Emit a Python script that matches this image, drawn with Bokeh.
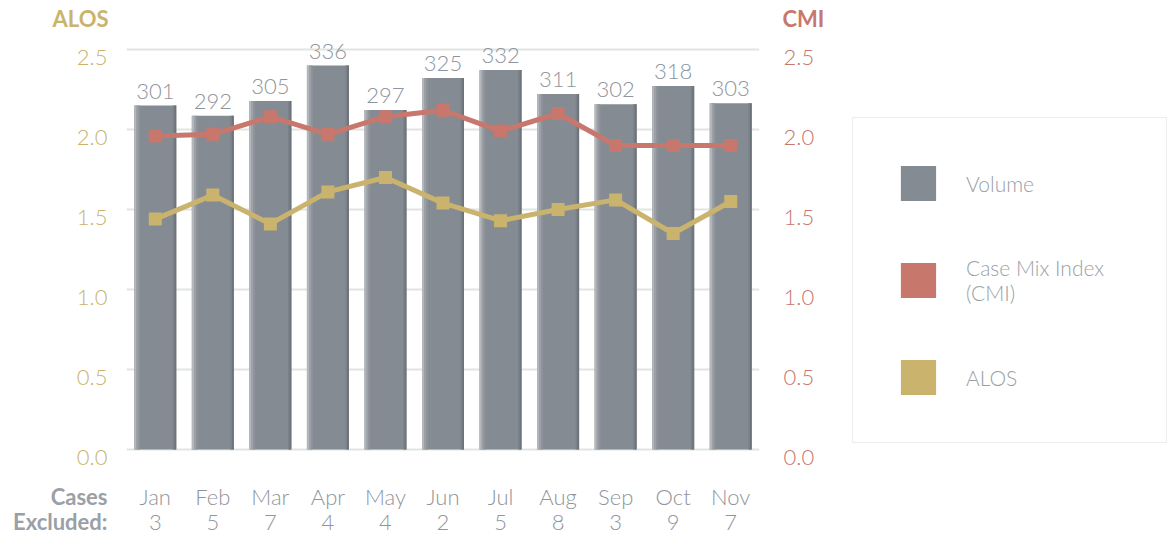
from bokeh.plotting import figure
from bokeh.models import (Range1d, FactorRange, LinearAxis, FixedTicker,
                          Grid, Legend, LegendItem, ColumnDataSource)
from bokeh.layouts import row
from bokeh.transform import dodge
from bokeh.core.properties import value
from bokeh.embed import file_html
from bokeh.resources import INLINE

# ---------------- data ----------------
months = ["Jan", "Feb", "Mar", "Apr", "May", "Jun", "Jul", "Aug", "Sep", "Oct", "Nov"]
cases_excluded = [3, 5, 7, 4, 4, 2, 5, 8, 3, 9, 7]
volume = [301, 292, 305, 336, 297, 325, 332, 311, 302, 318, 303]
cmi = [1.96, 1.97, 2.08, 1.97, 2.08, 2.12, 1.99, 2.10, 1.90, 1.90, 1.90]
alos = [1.44, 1.59, 1.41, 1.61, 1.70, 1.54, 1.43, 1.50, 1.56, 1.35, 1.55]
axis_ticks = [0.0, 0.5, 1.0, 1.5, 2.0, 2.5]
legend_labels = ["Volume", "Case Mix Index\n(CMI)", "ALOS"]
caption_lines = ["Cases", "Excluded:"]

# ---------------- style / layout ----------------
FONT = "Lato Light"
BOLD = "Lato"
GOLD = "#cab36c"
RED = "#c8776d"
BAR = "#858b92"
TXT = "#8f959c"
CAP = "#9aa0a6"
GRID = "#e2e3e4"
VOL_SCALE = 140.0
Y0, Y1 = -0.53125, 2.76875       # frame spans the full height (160 px per unit)
LABEL_SHIFT = 0.05               # tick labels sit slightly below their grid lines
TITLE_Y = 2.694                  # level of the "ALOS" / "CMI" titles
MONTH_Y, COUNT_Y = -0.29375, -0.45625
H = 534
BT, BB = 6, 0

src = ColumnDataSource(dict(month=months, volume=volume,
                            vol_label=[str(v) for v in volume],
                            count_label=[str(c) for c in cases_excluded],
                            cmi=cmi, alos=alos))

p = figure(width=840, height=H, output_backend="svg", toolbar_location=None,
           x_range=FactorRange(*months, range_padding=0), y_range=Range1d(Y0, Y1),
           x_axis_location=None, y_axis_location=None,
           min_border_left=126, min_border_right=81, min_border_top=BT, min_border_bottom=BB)
p.grid.grid_line_color = None
p.outline_line_color = None
p.background_fill_color = "white"
p.extra_y_ranges = {"cmi": Range1d(Y0, Y1), "vol": Range1d(Y0 * VOL_SCALE, Y1 * VOL_SCALE)}

p.add_layout(Grid(dimension=1, ticker=FixedTicker(ticks=axis_ticks),
                  grid_line_color=GRID, grid_line_width=2))

label_ticks = [t - LABEL_SHIFT for t in axis_ticks]


def make_axis(ticks, labels, color, standoff, font, size, bold=False, range_name="default"):
    ax = LinearAxis(y_range_name=range_name, ticker=FixedTicker(ticks=ticks),
                    major_label_overrides=dict(zip(ticks, labels)))
    ax.axis_line_color = None
    ax.major_tick_line_color = None
    ax.minor_tick_line_color = None
    ax.major_tick_out = 0
    ax.major_tick_in = 0
    ax.major_label_text_font = font
    ax.major_label_text_font_size = size
    ax.major_label_text_color = color
    ax.major_label_standoff = standoff
    if bold:
        ax.major_label_text_font_style = "bold"
    return ax


tick_texts = [f"{t:.1f}" for t in axis_ticks]
# left side: value axis, then (overlapping) title and row caption
p.add_layout(make_axis(label_ticks, tick_texts, GOLD, 19, FONT, "22px"), "left")
p.add_layout(make_axis([TITLE_Y], ["ALOS"], GOLD, -35, BOLD, "22px", bold=True), "left")
p.add_layout(make_axis([MONTH_Y, COUNT_Y], caption_lines, CAP, -58, BOLD, "22px", bold=True), "left")
# right side: CMI value axis and its title
p.add_layout(make_axis(label_ticks, tick_texts, RED, 24, FONT, "22px", range_name="cmi"), "right")
p.add_layout(make_axis([TITLE_Y], ["CMI"], RED, -35, BOLD, "22px", bold=True, range_name="cmi"), "right")

# bars with shaded edges
BW = 0.73
p.vbar(x="month", top="volume", width=BW, source=src, y_range_name="vol",
       fill_color=BAR, line_color=None)
for off, w, c in [(-BW / 2 + 0.02, 0.04, "#b3b7bc"), (-BW / 2 + 0.055, 0.035, "#9ca1a7"),
                  (-BW / 2 + 0.085, 0.03, "#8f949a"), (BW / 2 - 0.04, 0.04, "#7a8188"),
                  (BW / 2 - 0.015, 0.03, "#6c737a")]:
    p.vbar(x=dodge("month", off, range=p.x_range), top="volume", width=w, source=src,
           y_range_name="vol", fill_color=c, line_color=None)

p.text(x="month", y="volume", text="vol_label", source=src, y_range_name="vol",
       text_align="center", text_baseline="bottom", y_offset=-7,
       text_font=value(FONT), text_font_size="22px", text_color=TXT)

# category labels (month and cases excluded) under the bars
p.text(x="month", y=MONTH_Y, text="month", source=src, text_align="center",
       text_baseline="middle", text_font=value(FONT), text_font_size="22px", text_color=TXT)
p.text(x="month", y=COUNT_Y, text="count_label", source=src, text_align="center",
       text_baseline="middle", text_font=value(FONT), text_font_size="22px", text_color=TXT)

p.line(x="month", y="cmi", source=src, y_range_name="cmi", line_color=RED, line_width=5)
p.scatter(x="month", y="cmi", source=src, y_range_name="cmi", marker="square", size=13,
          fill_color=RED, line_color=None)
p.line(x="month", y="alos", source=src, line_color=GOLD, line_width=5)
p.scatter(x="month", y="alos", source=src, marker="square", size=13,
          fill_color=GOLD, line_color=None)

# ---------------- legend panel ----------------
lg = figure(width=328, height=H, output_backend="svg", toolbar_location=None,
            x_range=FactorRange(*months), y_range=Range1d(0, 1),
            x_axis_location=None, y_axis_location=None,
            min_border_left=0, min_border_right=0, min_border_top=BT, min_border_bottom=BB)
lg.grid.visible = False
lg.outline_line_color = None
renderers = [lg.vbar(x="month", top=0, width=0.1, source=src, fill_color=c, line_color=None)
             for c in [BAR, RED, GOLD]]
items = [LegendItem(label=l, renderers=[r]) for l, r in zip(legend_labels, renderers)]
legend = Legend(items=items, location=(12, 91), glyph_width=44, glyph_height=44,
                label_standoff=26, spacing=50, padding=43, margin=0, label_width=157,
                border_line_color="#d8dbde", border_line_width=1.5, background_fill_alpha=1,
                label_text_font=FONT, label_text_font_size="21px", label_text_color="#9a9fa5")
lg.add_layout(legend, "center")

layout = row(p, lg, spacing=0)
open("out.html", "w").write(file_html(layout, INLINE))
